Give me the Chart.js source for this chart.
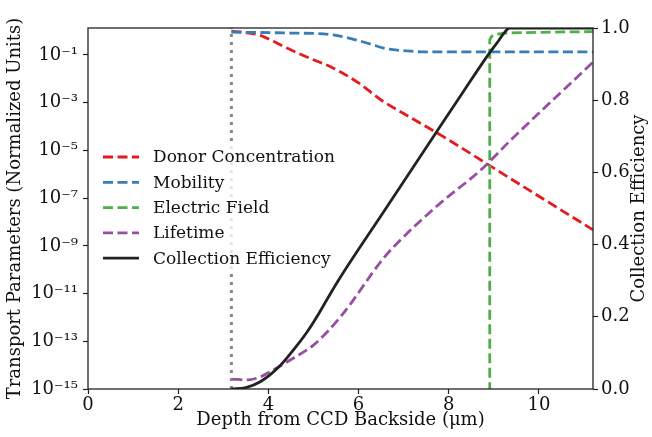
<!DOCTYPE html>
<html>
<head>
<meta charset="utf-8">
<script src="https://cdn.jsdelivr.net/npm/chart.js@4.4.1/dist/chart.umd.min.js"></script>
<style>
  html, body { margin: 0; padding: 0; background: #fff; }
  canvas { display: block; }
</style>
</head>
<body>
<canvas id="chart" width="652" height="437"></canvas>
<script>
// depletion edge (gray dotted line)
const edgeX = [3.18, 3.18];
const edgeVals = [1e-15, 1.35];

// donor concentration
const donorX = [3.18, 3.5, 3.82, 4.1, 4.4, 4.7, 5.0, 5.38, 6.0, 6.5, 7.0, 7.5, 8.0, 9.0, 10.0, 11.2];
const donorVals = [1.0, 0.87, 0.66, 0.38, 0.2, 0.11, 0.063, 0.032, 6.8e-3, 1.3e-3, 3.5e-4, 1.0e-4, 2.75e-5, 1.8e-6, 1.2e-7, 4.7e-9];

// mobility
const mobX = [3.18, 4.5, 5.38, 6.11, 6.64, 7.09, 7.4, 11.2];
const mobVals = [0.91, 0.83, 0.72, 0.35, 0.18, 0.148, 0.135, 0.135];

// electric field
const fieldX = [8.91, 8.91, 8.94, 8.98, 9.06, 9.16, 9.31, 9.7, 10.3, 11.2];
const fieldVals = [1e-20, 0.43, 0.56, 0.66, 0.74, 0.79, 0.83, 0.87, 0.91, 0.95];

// lifetime
const lifeX = [3.2, 3.53, 3.82, 4.11, 4.56, 5.0, 5.6, 6.56, 7.09, 7.82, 8.71, 9.38, 11.2];
const lifeVals = [2.6e-15, 2.4e-15, 3.2e-15, 6.3e-15, 2.0e-14, 6.9e-14, 1.05e-12, 3.1e-10, 3.5e-9, 6.3e-8, 1.5e-6, 2.75e-5, 5.0e-2];

// collection efficiency (right axis)
const effX = [3.18, 3.5, 3.82, 4.27, 4.6, 4.87, 5.1, 5.31, 5.6, 6.58, 7.56, 8.33, 8.87, 9.09, 9.22, 9.35, 11.2];
const effVals = [0, 0.004, 0.02, 0.066, 0.115, 0.16, 0.205, 0.25, 0.31, 0.495, 0.68, 0.825, 0.925, 0.962, 0.985, 1.0, 1.0];

// ticks
const xTicks = [0, 2, 4, 6, 8, 10];
const leftTickExps = [-15, -13, -11, -9, -7, -5, -3, -1];
const leftTickLabels = ['10⁻¹⁵', '10⁻¹³', '10⁻¹¹', '10⁻⁹', '10⁻⁷', '10⁻⁵', '10⁻³', '10⁻¹'];
const rightTicks = [0, 0.2, 0.4, 0.6, 0.8, 1.0];

const xTitle = 'Depth from CCD Backside (μm)';
const leftTitle = 'Transport Parameters (Normalized Units)';
const rightTitle = 'Collection Efficiency';

const FONT = '"DejaVu Serif", serif';
const TXT = '#111';
const TICK_SIZE = 18;
const TITLE_SIZE = 18;
const LEGEND_SIZE = 17;

function pts(xs, ys) { return xs.map((x, i) => ({ x: x, y: ys[i] })); }

const dashed = [10, 4.5];

const datasets = [
  { data: pts(edgeX, edgeVals), yAxisID: 'y', borderColor: 'rgba(128,128,128,0.95)', borderWidth: 3, borderDash: [3, 5], order: 6 },
  { label: 'Donor Concentration', data: pts(donorX, donorVals), yAxisID: 'y', borderColor: '#e41a1c', borderWidth: 2.8, borderDash: dashed, cubicInterpolationMode: 'monotone', order: 5 },
  { label: 'Mobility', data: pts(mobX, mobVals), yAxisID: 'y', borderColor: '#377eb8', borderWidth: 2.8, borderDash: dashed, cubicInterpolationMode: 'monotone', order: 4 },
  { label: 'Electric Field', data: pts(fieldX, fieldVals), yAxisID: 'y', borderColor: '#4daf4a', borderWidth: 2.8, borderDash: dashed, order: 3 },
  { label: 'Lifetime', data: pts(lifeX, lifeVals), yAxisID: 'y', borderColor: '#984ea3', borderWidth: 2.8, borderDash: dashed, cubicInterpolationMode: 'monotone', order: 2 },
  { label: 'Collection Efficiency', data: pts(effX, effVals), yAxisID: 'yR', borderColor: '#222222', borderWidth: 2.8, cubicInterpolationMode: 'monotone', order: 1 }
];

// frame, right title (reads bottom-to-top) and the in-plot legend
const extras = {
  id: 'extras',
  afterDatasetsDraw(chart) {
    const ctx = chart.ctx;
    const items = chart.data.datasets.filter(d => d.label);
    ctx.save();
    ctx.fillStyle = 'rgba(255,255,255,0.8)';
    ctx.beginPath();
    ctx.roundRect(96, 143, 246, 128, 4);
    ctx.fill();
    ctx.font = LEGEND_SIZE + 'px ' + FONT;
    ctx.textBaseline = 'middle';
    ctx.textAlign = 'left';
    items.forEach((d, i) => {
      const y = 157 + i * 25.3;
      ctx.strokeStyle = d.borderColor;
      ctx.lineWidth = d.borderWidth;
      ctx.setLineDash(d.borderDash || []);
      ctx.beginPath();
      ctx.moveTo(103, y);
      ctx.lineTo(139, y);
      ctx.stroke();
      ctx.setLineDash([]);
      ctx.fillStyle = TXT;
      ctx.fillText(d.label, 153, y + 1);
    });
    ctx.restore();
  },
  afterDraw(chart) {
    const { ctx, chartArea: a } = chart;
    ctx.save();
    ctx.strokeStyle = '#222';
    ctx.lineWidth = 1.3;
    ctx.strokeRect(a.left, a.top, a.right - a.left, a.bottom - a.top);
    ctx.fillStyle = TXT;
    ctx.font = TITLE_SIZE + 'px ' + FONT;
    ctx.textAlign = 'center';
    ctx.textBaseline = 'middle';
    ctx.translate(639, (a.top + a.bottom) / 2);
    ctx.rotate(-Math.PI / 2);
    ctx.fillText(rightTitle, 0, 0);
    ctx.restore();
  }
};

const tickGrid = { display: true, drawOnChartArea: false, drawTicks: true, tickLength: 5, tickWidth: 1.2, tickColor: '#222' };

new Chart(document.getElementById('chart'), {
  type: 'line',
  data: { datasets: datasets },
  options: {
    responsive: false,
    animation: false,
    events: [],
    layout: { padding: { top: 28, left: 0, right: 0, bottom: 0 } },
    elements: { point: { radius: 0 }, line: { tension: 0, borderCapStyle: 'butt' } },
    plugins: { legend: { display: false }, tooltip: { enabled: false } },
    scales: {
      x: {
        type: 'linear', min: 0, max: 11.2,
        afterBuildTicks: s => { s.ticks = xTicks.map(v => ({ value: v })); },
        afterFit: s => { s.height = 48; },
        grid: tickGrid,
        border: { display: false },
        ticks: { font: { family: FONT, size: TICK_SIZE }, color: TXT, padding: 1, maxRotation: 0, autoSkip: false, callback: v => String(v) },
        title: { display: true, text: xTitle, font: { family: FONT, size: TITLE_SIZE }, color: TXT, padding: { top: 0, bottom: 6 } }
      },
      y: {
        type: 'logarithmic', position: 'left', min: 1e-15, max: 1.35,
        afterBuildTicks: s => { s.ticks = leftTickExps.map(e => ({ value: Math.pow(10, e) })); },
        afterFit: s => { s.width = 88; },
        grid: tickGrid,
        border: { display: false },
        ticks: { font: { family: FONT, size: TICK_SIZE }, color: TXT, padding: 5, autoSkip: false, callback: (v, i) => leftTickLabels[i] },
        title: { display: true, text: leftTitle, font: { family: FONT, size: TITLE_SIZE }, color: TXT, padding: { top: 5, bottom: 0 } }
      },
      yR: {
        type: 'linear', position: 'right', min: 0, max: 1,
        afterBuildTicks: s => { s.ticks = rightTicks.map(v => ({ value: v })); },
        afterFit: s => { s.width = 59; },
        grid: tickGrid,
        border: { display: false },
        ticks: { font: { family: FONT, size: TICK_SIZE }, color: TXT, padding: 3, autoSkip: false, callback: v => v.toFixed(1) }
      }
    }
  },
  plugins: [extras]
});
</script>
</body>
</html>
